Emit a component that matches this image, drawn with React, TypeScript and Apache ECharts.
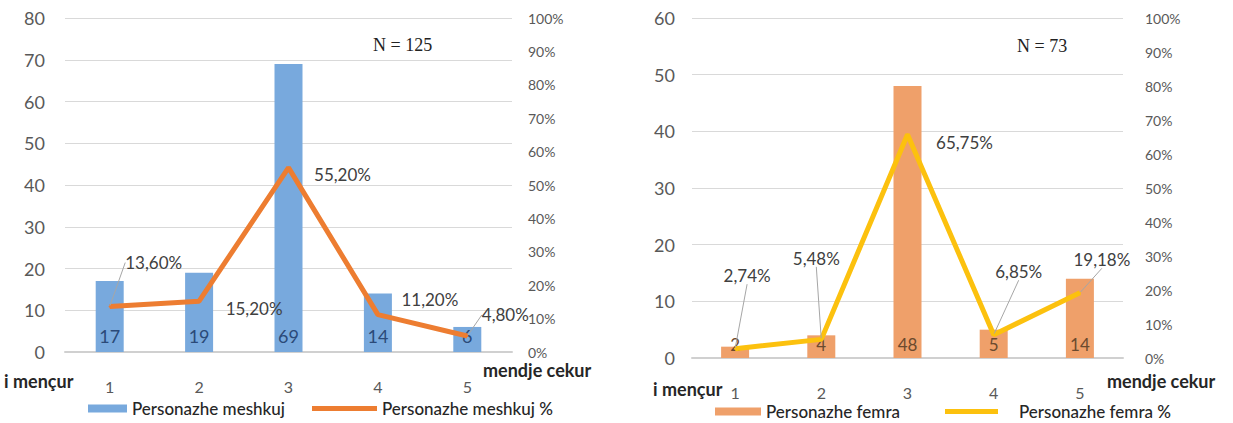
import React, { useEffect, useRef } from "react";
import * as echarts from "echarts";

const categories = ["1", "2", "3", "4", "5"];
const maleCounts = [17, 19, 69, 14, 6];
const malePct = [13.6, 15.2, 55.2, 11.2, 4.8];
const femaleCounts = [2, 4, 48, 5, 14];
const femalePct = [2.74, 5.48, 65.75, 6.85, 19.18];
const leftTicksMax = 80;
const rightTicksMax = 60;
const pctMax = 100;

const maleLabelOffsets = [[44, -44], [55, 7], [54, 7], [52, -15], [38, -21]];
const maleLeader = [true, false, false, false, true];
const femaleLabelOffsets = [[12, -73], [-5, -81], [57, 8], [25, -63], [22, -33]];
const femaleLeader = [true, true, false, true, true];

const FONT = "Lato, 'Open Sans', sans-serif";
const fmtPct = (v: number) => v.toFixed(2).replace(".", ",") + "%";

export default function App() {
  const ref = useRef<HTMLDivElement>(null);
  useEffect(() => {
    if (!ref.current) return;
    const chart = echarts.init(ref.current, null, { renderer: "svg" });
    const gridLine = { show: true, lineStyle: { color: "#d9d9d9", width: 1 } };
    const xAxisBase = (gridIndex: number) => ({
      type: "category",
      gridIndex,
      data: categories,
      axisTick: { show: false },
      axisLine: { show: true, lineStyle: { color: "#d0d0d0", width: 2 } },
      axisLabel: { color: "#595959", fontSize: 16, margin: 26, fontFamily: FONT },
    });
    const lineData = (vals: number[], leader: boolean[]) =>
      vals.map((v, i) => ({
        value: v,
        labelLine: { show: leader[i], lineStyle: { color: "#a6a6a6", width: 1 } },
      }));
    const lineLabel = {
      show: true, position: "inside", fontSize: 17, color: "#404040", fontFamily: FONT,
      formatter: (p: any) => fmtPct(typeof p.value === "number" ? p.value : p.data.value),
    };
    const legendText = { fontSize: 17, color: "#262626", fontFamily: FONT, fontWeight: 500 };
    const boldText = (text: string, left: number, top: number) => ({
      type: "text", left, top,
      style: { text, fontSize: 18, fontWeight: "bold", fill: "#262626", fontFamily: FONT },
    });
    chart.setOption({
      animation: false,
      textStyle: { fontFamily: FONT },
      grid: [
        { left: 65, right: 1233 - 512, top: 18, bottom: 423 - 352 },
        { left: 692, right: 1233 - 1123, top: 18, bottom: 423 - 358 },
      ],
      xAxis: [xAxisBase(0), xAxisBase(1)],
      yAxis: [
        {
          type: "value", gridIndex: 0, min: 0, max: leftTicksMax, interval: 10,
          splitLine: gridLine, axisLine: { show: false }, axisTick: { show: false },
          axisLabel: { color: "#595959", fontSize: 18, margin: 20, fontFamily: FONT },
        },
        {
          type: "value", gridIndex: 0, min: 0, max: pctMax, interval: 10, position: "right",
          splitLine: { show: false }, axisLine: { show: false }, axisTick: { show: false },
          axisLabel: { color: "#595959", fontSize: 14, margin: 16, formatter: "{value}%", fontFamily: FONT },
        },
        {
          type: "value", gridIndex: 1, min: 0, max: rightTicksMax, interval: 10,
          splitLine: gridLine, axisLine: { show: false }, axisTick: { show: false },
          axisLabel: { color: "#595959", fontSize: 18, margin: 17, fontFamily: FONT },
        },
        {
          type: "value", gridIndex: 1, min: 0, max: pctMax, interval: 10, position: "right",
          splitLine: { show: false }, axisLine: { show: false }, axisTick: { show: false },
          axisLabel: { color: "#595959", fontSize: 14, margin: 22, formatter: "{value}%", fontFamily: FONT },
        },
      ],
      legend: [
        {
          data: ["Personazhe meshkuj"], left: 88, top: 400, padding: 0,
          itemWidth: 39, itemHeight: 8, icon: "rect", textStyle: legendText,
        },
        {
          data: ["Personazhe meshkuj %"], left: 312, top: 400, padding: 0,
          itemWidth: 65, itemHeight: 5, icon: "rect", textStyle: legendText,
        },
        {
          data: ["Personazhe femra"], left: 715, top: 403, padding: 0,
          itemWidth: 46, itemHeight: 8, icon: "rect", textStyle: legendText,
        },
        {
          data: ["Personazhe femra %"], left: 945, top: 403, padding: 0,
          itemWidth: 53, itemHeight: 5, icon: "rect",
          textStyle: { ...legendText, padding: [0, 0, 0, 16] },
        },
      ],
      series: [
        {
          name: "Personazhe meshkuj", type: "bar", xAxisIndex: 0, yAxisIndex: 0,
          data: maleCounts, barWidth: 28,
          itemStyle: { color: "#78a9dd" },
          label: { show: true, position: "insideBottom", distance: 7, fontSize: 18, color: "#2b4a78", fontFamily: FONT },
        },
        {
          name: "Personazhe meshkuj %", type: "line", xAxisIndex: 0, yAxisIndex: 1,
          data: lineData(malePct, maleLeader),
          symbol: "circle", symbolSize: 2, showSymbol: true,
          lineStyle: { color: "#ed7d31", width: 5 }, itemStyle: { color: "#ed7d31" },
          label: lineLabel,
          labelLine: { show: true, lineStyle: { color: "#a6a6a6", width: 1 } },
          labelLayout: (p: any) => ({ dx: maleLabelOffsets[p.dataIndex][0], dy: maleLabelOffsets[p.dataIndex][1] }),
          z: 5,
        },
        {
          name: "Personazhe femra", type: "bar", xAxisIndex: 1, yAxisIndex: 2,
          data: femaleCounts, barWidth: 28,
          itemStyle: { color: "#efa06a" },
          label: { show: true, position: "insideBottom", distance: 5, fontSize: 17, color: "#6b4a2e", fontFamily: FONT },
        },
        {
          name: "Personazhe femra %", type: "line", xAxisIndex: 1, yAxisIndex: 3,
          data: lineData(femalePct, femaleLeader),
          symbol: "circle", symbolSize: 2, showSymbol: true,
          lineStyle: { color: "#fcc10e", width: 5 }, itemStyle: { color: "#fcc10e" },
          label: lineLabel,
          labelLine: { show: true, lineStyle: { color: "#a6a6a6", width: 1 } },
          labelLayout: (p: any) => ({ dx: femaleLabelOffsets[p.dataIndex][0], dy: femaleLabelOffsets[p.dataIndex][1] }),
          z: 5,
        },
      ],
      graphic: [
        boldText("i mençur", 4, 372),
        boldText("mendje cekur", 483, 361),
        boldText("i mençur", 653, 380),
        boldText("mendje cekur", 1107, 372),
        { type: "text", left: 373, top: 36, style: { text: "N = 125", fontSize: 18, fill: "#222", fontFamily: "'Liberation Serif', serif" } },
        { type: "text", left: 1017, top: 37, style: { text: "N = 73", fontSize: 18, fill: "#222", fontFamily: "'Liberation Serif', serif" } },
      ],
    });
    return () => chart.dispose();
  }, []);
  return (
    <div
      ref={ref}
      style={{ position: "fixed", left: 0, top: 0, width: 1233, height: 423, background: "#fff" }}
    />
  );
}
